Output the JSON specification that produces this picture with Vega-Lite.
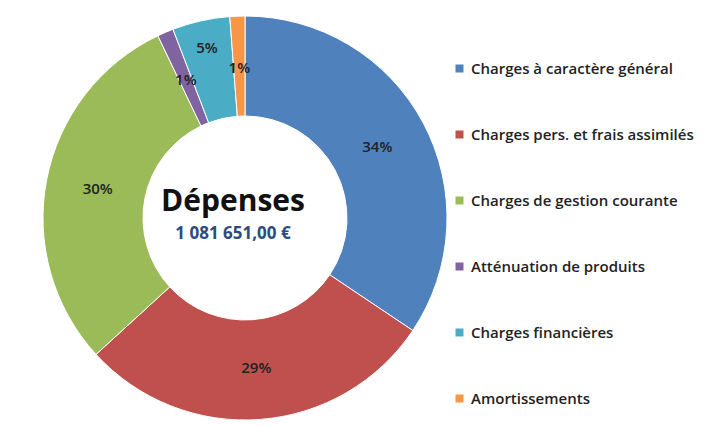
{
  "$schema": "https://vega.github.io/schema/vega-lite/v6.json",
  "width": 490,
  "height": 416,
  "padding": {"left": 0, "top": 10, "right": 0, "bottom": 0},
  "background": "white",
  "config": {"view": {"stroke": null}},
  "data": {
    "values": [
      {"idx": 1, "category": "Charges à caractère général", "value": 0.344},
      {"idx": 2, "category": "Charges pers. et frais assimilés", "value": 0.288},
      {"idx": 3, "category": "Charges de gestion courante", "value": 0.297},
      {"idx": 4, "category": "Atténuation de produits", "value": 0.013},
      {"idx": 5, "category": "Charges financières", "value": 0.046},
      {"idx": 6, "category": "Amortissements", "value": 0.012}
    ]
  },
  "layer": [
    {
      "mark": {"type": "arc", "innerRadius": 102, "outerRadius": 202, "stroke": "white", "strokeWidth": 1},
      "encoding": {
        "theta": {"field": "value", "type": "quantitative", "stack": true},
        "order": {"field": "idx", "type": "quantitative"},
        "color": {
          "field": "category",
          "type": "nominal",
          "sort": null,
          "scale": {
            "domain": ["Charges à caractère général", "Charges pers. et frais assimilés", "Charges de gestion courante", "Atténuation de produits", "Charges financières", "Amortissements"],
            "range": ["#4F81BD", "#C0504D", "#9BBB59", "#8064A2", "#4BACC6", "#F79646"]
          },
          "legend": {
            "title": null,
            "orient": "none",
            "legendX": 452,
            "legendY": 51,
            "symbolType": "square",
            "symbolSize": 64,
            "symbolStrokeWidth": 0,
            "labelFont": "Open Sans",
            "labelFontSize": 15,
            "labelFontWeight": 600,
            "labelColor": "#222222",
            "labelLimit": 300,
            "rowPadding": 50,
            "labelOffset": 4
          }
        }
      }
    },
    {
      "mark": {"type": "text", "radius": 150, "font": "Open Sans", "fontSize": 15, "fontWeight": 600, "fill": "#222222"},
      "encoding": {
        "theta": {"field": "value", "type": "quantitative", "stack": true},
        "order": {"field": "idx", "type": "quantitative"},
        "text": {"condition": {"test": "datum.idx != 5", "field": "value", "type": "quantitative", "format": ".0%"}, "value": ""}
      }
    },
    {
      "mark": {"type": "text", "radius": 174, "font": "Open Sans", "fontSize": 15, "fontWeight": 600, "fill": "#222222"},
      "encoding": {
        "theta": {"field": "value", "type": "quantitative", "stack": true},
        "order": {"field": "idx", "type": "quantitative"},
        "text": {"condition": {"test": "datum.idx == 5", "field": "value", "type": "quantitative", "format": ".0%"}, "value": ""}
      }
    },
    {
      "data": {"values": [{"t": "Dépenses"}]},
      "mark": {"type": "text", "font": "Open Sans", "fontSize": 30, "fontWeight": "bold", "fill": "#111111", "dx": -12, "dy": -16},
      "encoding": {"text": {"field": "t", "type": "nominal"}}
    },
    {
      "data": {"values": [{"t": "1 081 651,00 €"}]},
      "mark": {"type": "text", "font": "Open Sans", "fontSize": 17, "fontWeight": "bold", "fill": "#2B4C7E", "dx": -12, "dy": 16},
      "encoding": {"text": {"field": "t", "type": "nominal"}}
    }
  ]
}
